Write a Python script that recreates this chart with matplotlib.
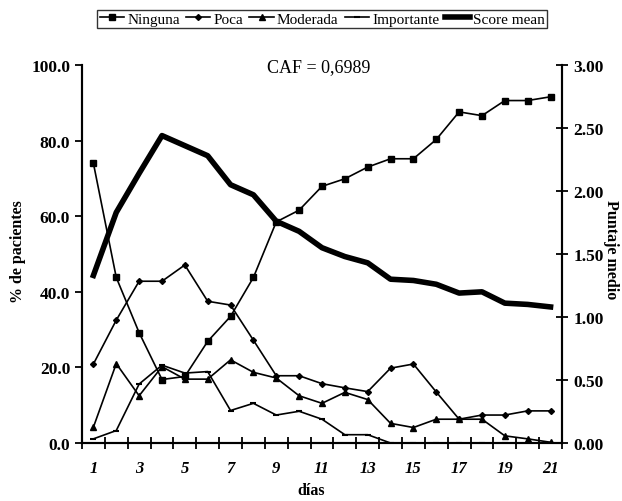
import numpy as np
import matplotlib
matplotlib.use('Agg')
import matplotlib.pyplot as plt
from matplotlib.ticker import FormatStrFormatter

plt.rcParams['font.family'] = ['Liberation Serif', 'DejaVu Serif']

# datos
dias = list(range(1, 22))
ninguna = [74.0, 43.8, 29.2, 16.8, 17.6, 26.9, 33.5, 43.8, 58.5, 61.6, 67.9,
           69.9, 73.0, 75.2, 75.2, 80.3, 87.6, 86.6, 90.6, 90.6, 91.6]
poca = [20.9, 32.5, 42.8, 42.8, 47.1, 37.5, 36.5, 27.2, 17.8, 17.8, 15.7,
        14.6, 13.6, 19.8, 20.9, 13.5, 6.3, 7.4, 7.4, 8.5, 8.5]
moderada = [4.2, 21.0, 12.5, 20.2, 16.9, 16.9, 22.0, 18.7, 17.2, 12.5, 10.5,
            13.4, 11.5, 5.2, 4.1, 6.3, 6.3, 6.3, 1.9, 1.1, 0.2]
importante = [1.1, 3.3, 15.6, 20.6, 18.5, 18.9, 8.6, 10.5, 7.4, 8.4, 6.3,
              2.2, 2.2, 0.0, 0.0, 0.0, 0.0, 0.0, 0.0, 0.0, 0.0]
score_mean = [1.33, 1.83, 2.14, 2.44, 2.36, 2.28, 2.05, 1.97, 1.76, 1.68, 1.55,
              1.48, 1.43, 1.30, 1.29, 1.26, 1.19, 1.20, 1.11, 1.10, 1.08]
etiquetas_x = [1, 3, 5, 7, 9, 11, 13, 15, 17, 19, 21]

fig = plt.figure(figsize=(6.22, 5.02), dpi=100)
ax = fig.add_axes([0.1318, 0.1155, 0.7717, 0.753])
ax2 = ax.twinx()

l1, = ax.plot(dias, ninguna, color='black', lw=1.2, marker='s', ms=4, label='Ninguna')
l2, = ax.plot(dias, poca, color='black', lw=1.2, marker='D', ms=3, label='Poca')
l3, = ax.plot(dias, moderada, color='black', lw=1.2, marker='^', ms=4, label='Moderada')
l4, = ax.plot(dias, importante, color='black', lw=1.2, marker='_', ms=5, mew=1.5, label='Importante')
l5, = ax2.plot(dias, score_mean, color='black', lw=4, label='Score mean')

ax.set_xlim(0.5, 21.5)
ax.set_ylim(0, 100)
ax2.set_ylim(0, 3)

ax.set_yticks([0, 20, 40, 60, 80, 100])
ax.yaxis.set_major_formatter(FormatStrFormatter('%.1f'))
ax2.set_yticks([0, 0.5, 1.0, 1.5, 2.0, 2.5, 3.0])
ax2.yaxis.set_major_formatter(FormatStrFormatter('%.2f'))

ax.set_xticks(etiquetas_x)
ax.set_xticklabels([str(e) for e in etiquetas_x], fontweight='bold', fontstyle='italic', fontsize=12)
ax.set_xticks(np.arange(0.5, 22, 1), minor=True)
ax.tick_params(axis='x', which='major', length=0, pad=12)
ax.tick_params(axis='x', which='minor', direction='inout', length=8, width=1.3)
ax.tick_params(axis='y', direction='out', length=5, width=1.3, labelsize=12.5)
ax2.tick_params(axis='y', direction='inout', length=9, width=1.3, labelsize=12.5)
for lab in ax.get_yticklabels() + ax2.get_yticklabels():
    lab.set_fontweight('bold')

for a in (ax, ax2):
    a.spines['top'].set_visible(False)
    for s in ('left', 'right', 'bottom'):
        a.spines[s].set_linewidth(1.5)

# etiquetas de ejes colocadas en pixeles de la figura
fig.text(18, 502 - 252, '% de pacientes', transform=None, fontweight='bold', fontsize=11.5,
         rotation=90, ha='center', va='center')
fig.text(611, 502 - 250, 'Puntaje medio', transform=None, fontweight='bold', fontsize=11.5,
         rotation=270, ha='center', va='center')
fig.text(311, 502 - 491, 'días', transform=None, fontweight='bold', fontsize=11.5,
         ha='center', va='center')

# texto CAF en pixeles de la figura
ax.text(319, 502 - 68, 'CAF = 0,6989', transform=None, fontsize=13, ha='center', va='center')

leg = fig.legend(handles=[l1, l2, l3, l4, l5], loc='upper center', bbox_to_anchor=(0.518, 0.985),
                 ncol=5, frameon=True, fancybox=False, fontsize=11, handlelength=1.6,
                 handletextpad=0.2, columnspacing=0.4, borderpad=0.15, borderaxespad=0.2)
leg.get_frame().set_edgecolor('black')
leg.get_frame().set_linewidth(1.0)

fig.savefig('out.png', dpi=100)
